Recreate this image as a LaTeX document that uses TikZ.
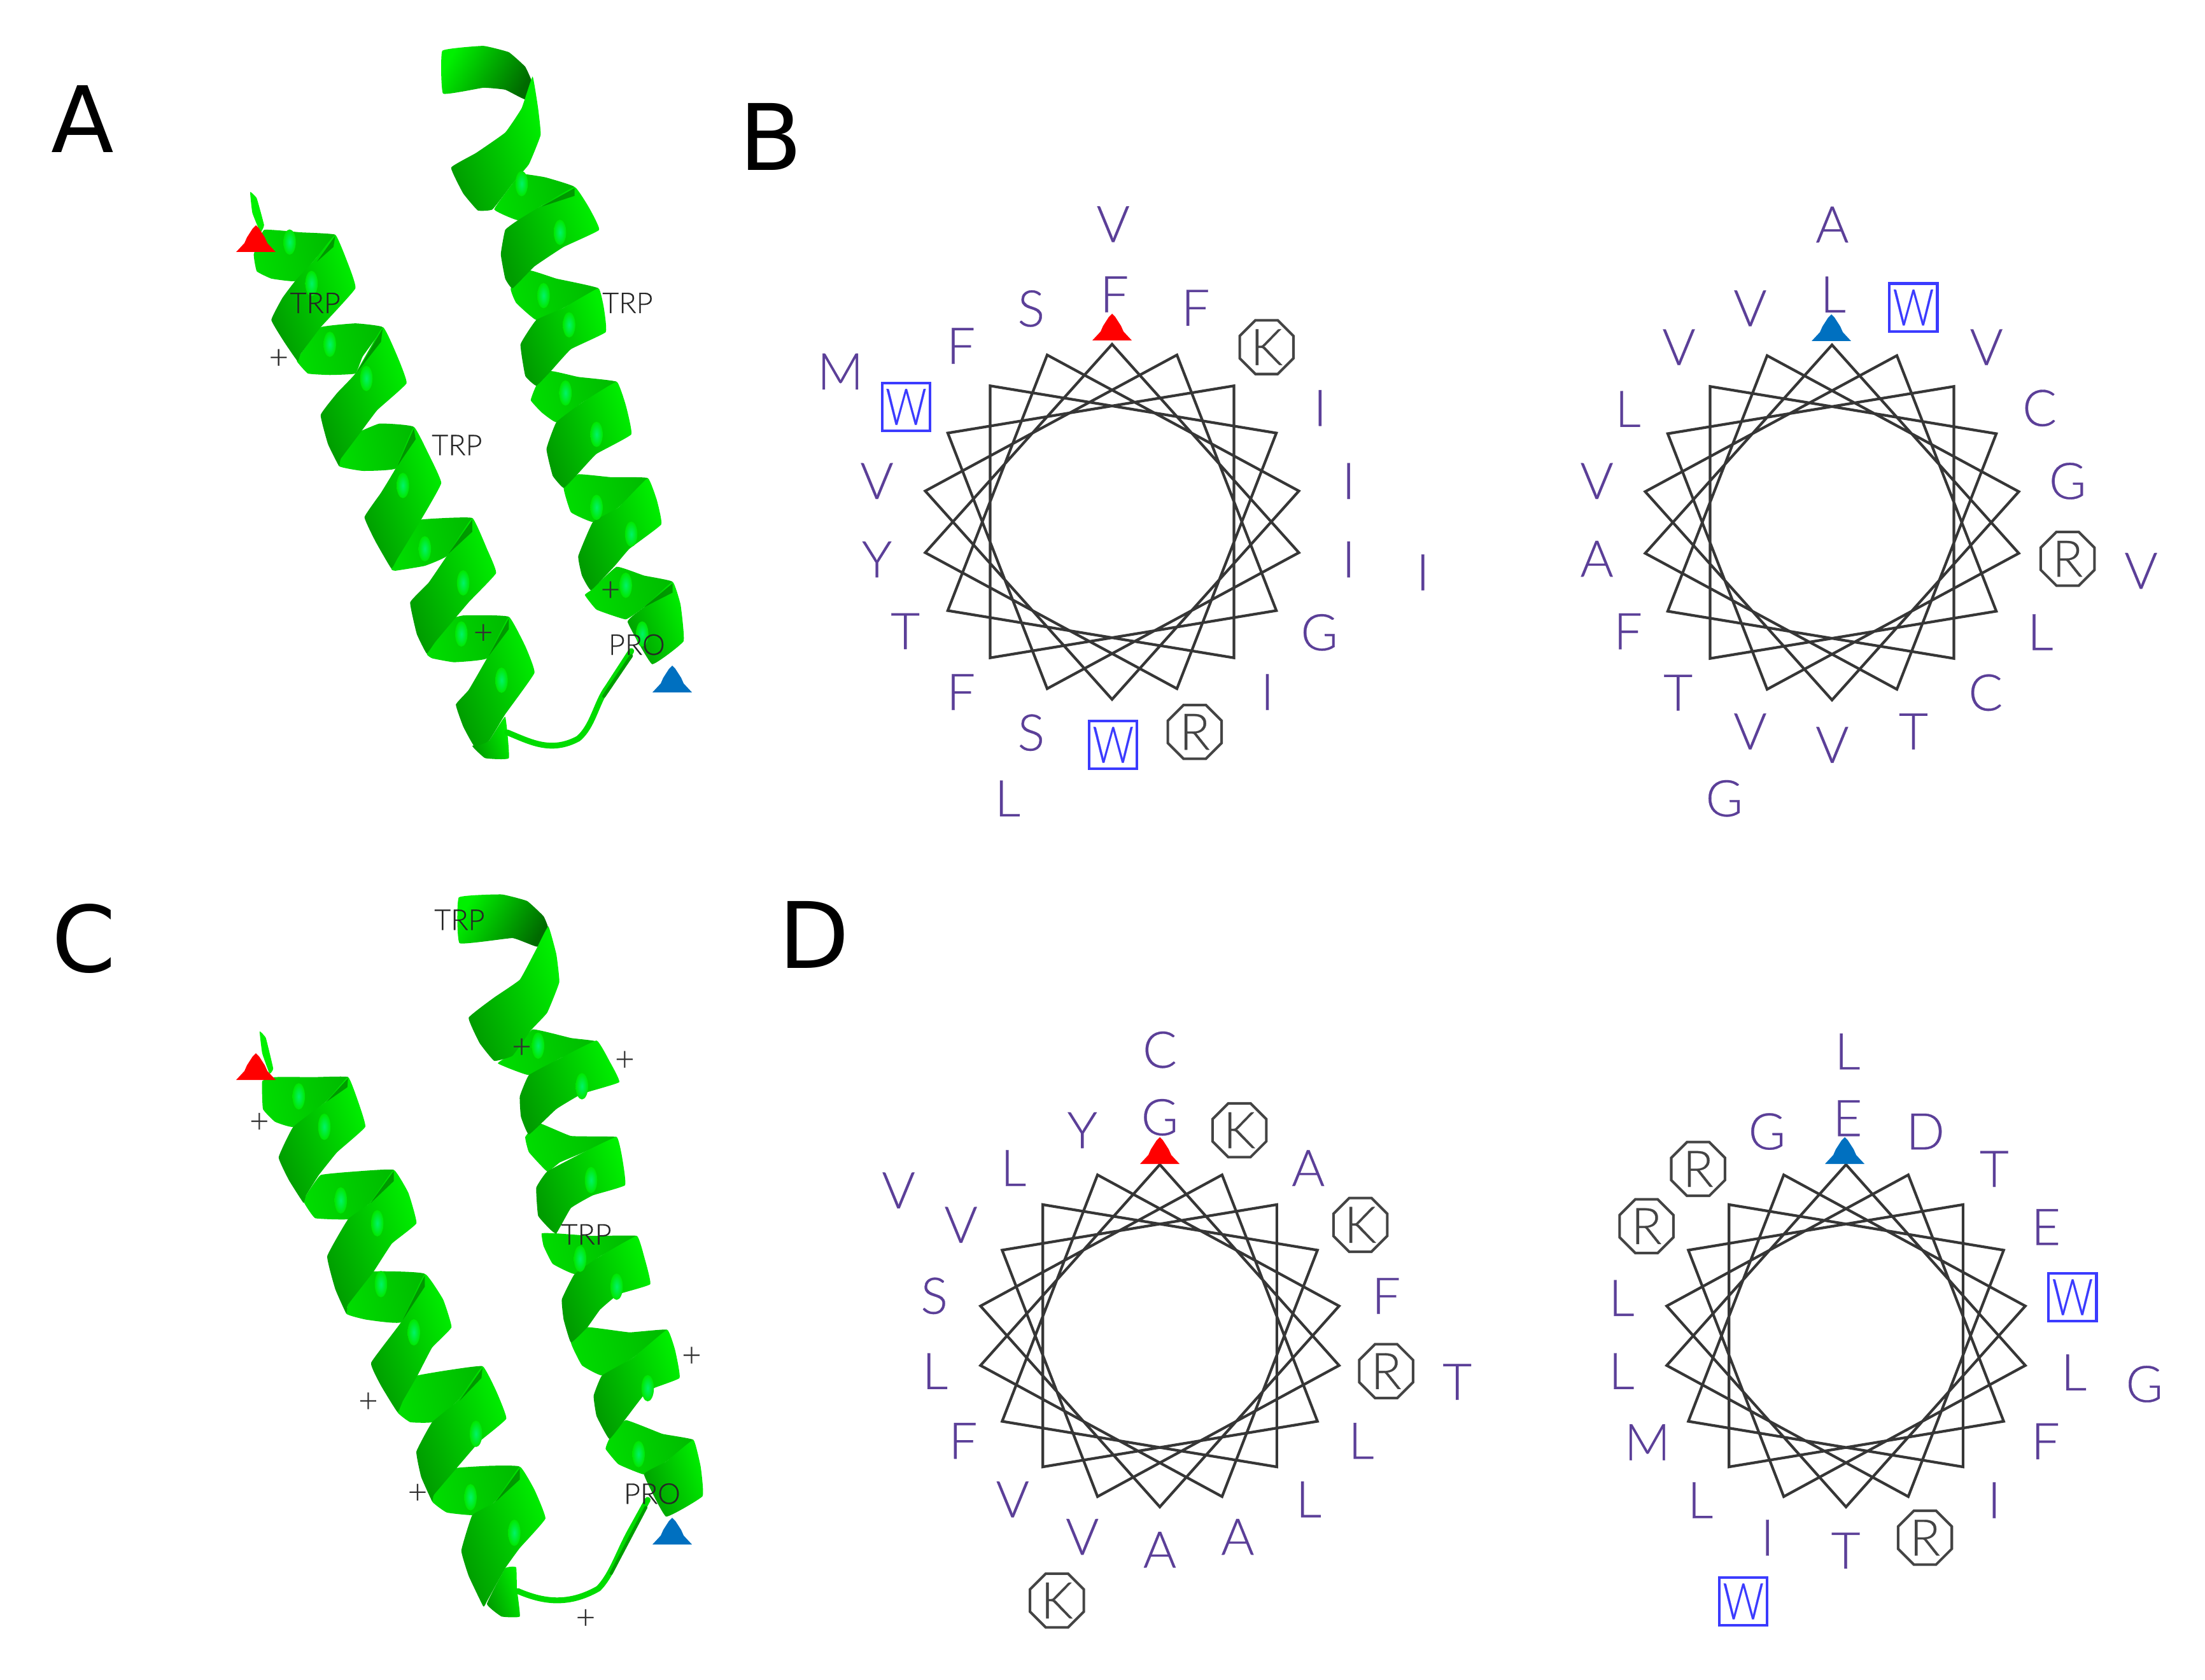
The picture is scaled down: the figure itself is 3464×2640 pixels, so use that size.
\documentclass[tikz,border=0pt]{standalone}
\usepackage{fontspec}
\usepackage{graphicx}
\usetikzlibrary{shapes.geometric}
\setmainfont{Liberation Sans}
\newfontfamily\lightfont[FakeBold=.35]{Lato Light}
\newfontfamily\panelfont{DejaVu Sans}
\definecolor{resid}{HTML}{5B3F98}
\definecolor{wblue}{HTML}{3B3BFF}
\definecolor{octc}{HTML}{444444}
\definecolor{wheelc}{HTML}{363636}
\definecolor{gbright}{HTML}{00F000}
\definecolor{gmid}{HTML}{00DC00}
\definecolor{gdark}{HTML}{009C00}
\definecolor{gedge}{HTML}{00BC00}
\definecolor{gfold}{HTML}{006A00}
\definecolor{ghl}{HTML}{00F26A}
\definecolor{redtri}{HTML}{FF0000}
\definecolor{bluetri}{HTML}{0070C0}
\tikzset{
  resid/.style={inner sep=0pt,text=resid,font=\lightfont\fontsize{22.6}{24}\selectfont},
  octag/.style={regular polygon,regular polygon sides=8,draw=octc,line width=1.15pt,inner sep=0pt,minimum size=26pt,text=octc,font=\lightfont\fontsize{22.6}{24}\selectfont},
  wbox/.style={rectangle,draw=wblue,line width=1.2pt,inner sep=0pt,minimum size=21.4pt,text=wblue,font=\lightfont\fontsize{22.6}{24}\selectfont},
  wheelline/.style={draw=wheelc,line width=1.2pt,line join=miter},
  plabel/.style={inner sep=0pt,text=black!85,font=\lightfont\fontsize{12.8}{13}\selectfont},
  plusm/.style={inner sep=0pt,text=black!80,font=\lightfont\fontsize{15}{16}\selectfont},
  panel/.style={inner sep=0pt,text=black,font=\panelfont\fontsize{41}{44}\selectfont},
  bb/.style={left color=gmid,middle color=gbright,right color=gedge,shading angle=100},
  ff/.style={left color=gdark,middle color=gmid,right color=gbright,shading angle=110},
  ss/.style={left color=gbright,middle color=gmid,right color=gfold,shading angle=60},
  foldw/.style={fill=gfold,opacity=.6},
  loopr/.style={draw=gmid,line cap=round,line join=round},
}
\newcounter{nn}
\newcommand\rl[3]{\stepcounter{nn}\node[resid] (r\arabic{nn}) at (#1,#2) {#3};}
\newcommand\ro[3]{\stepcounter{nn}\node[octag] (r\arabic{nn}) at (#1,#2) {#3};}
\newcommand\rw[2]{\stepcounter{nn}\node[wbox] (r\arabic{nn}) at (#1,#2) {\scalebox{.8}[1]{W}};}
\newcommand\lab[3]{\stepcounter{nn}\node[plabel] (r\arabic{nn}) at (#1,#2) {#3};}
\newcommand\pl[2]{\stepcounter{nn}\node[plusm] (r\arabic{nn}) at (#1,#2) {+};}
\newcommand\band[2]{\path[#1] plot[smooth cycle,tension=.18] coordinates {#2};}
\newcommand\hl[2]{\shade[inner color=ghl,outer color=gmid!40!gbright] (#1,#2) ellipse (17 and 26);}
\newcommand\fold[3]{\fill[foldw] #1 -- #2 -- #3 -- cycle;}
\newcommand\tri[3]{\fill[#3] (#1-31,#2) -- (#1-18,#2-14) -- (#1-14,#2-23) -- (#1-5,#2-37) -- (#1,#2-42) -- (#1+5,#2-37) -- (#1+14,#2-23) -- (#1+18,#2-14) -- (#1+31,#2) -- cycle;}
\newcommand\wheelstar[4]{\path[wheelline] plot[samples at={0,1,...,17},variable=\k] ({#1+#3*sin(100*\k)},{#2-#4*cos(100*\k)}) -- cycle;}
\begin{document}
\begin{tikzpicture}[x=.01cm,y=-.01cm]
\useasboundingbox[fill=white] (0,0) rectangle (3464,2640);
% panel letters
\node[panel] (pa) at (130,187) {A};
\node[panel] (pb) at (1211,215) {B};
\node[panel] (pc) at (132,1475) {C};
\node[panel] (pd) at (1279,1469) {D};
% ----- A helices
\begin{scope}[shift={(300,40)},xscale=1/1.742,yscale=1/1.307]
% left
\band{bb}{(200,420) (300,425) (395,430) (340,480) (285,525) (220,520) (180,505) (172,470)}
\band{bb}{(355,620) (450,612) (525,620) (470,680) (450,715) (380,718) (320,715) (290,690) (300,675)}
\band{bb}{(515,818) (610,825) (560,910) (470,915) (405,905) (420,850)}
\band{bb}{(630,1015) (770,1012) (700,1090) (640,1110) (560,1120) (548,1115) (580,1040)}
\band{bb}{(745,1212) (870,1215) (810,1300) (720,1308) (660,1300) (645,1290) (665,1230)}
\band{ff}{(860,1420) (870,1505) (805,1505) (770,1480) (815,1470)}
\path[loopr,line width=2.6pt] (865,1452) .. controls (930,1472) and (985,1495) .. (1060,1465) .. controls (1100,1440) and (1110,1390) .. (1140,1360) -- (1205,1285);
\path[draw=gdark,line width=1.5pt,line cap=round] (1130,1378) -- (1205,1295);
\band{ff}{(395,430) (425,480) (450,540) (355,620) (300,675) (292,690) (255,650) (220,605) (250,560) (285,525) (340,480)}
\band{ff}{(525,620) (565,680) (590,735) (510,790) (460,840) (410,890) (405,905) (375,860) (355,800) (400,755) (450,715)}
\band{ff}{(610,825) (650,880) (685,940) (630,1015) (565,1095) (548,1115) (505,1060) (475,1010) (520,960) (560,910)}
\band{ff}{(770,1012) (810,1075) (835,1125) (760,1185) (670,1265) (645,1290) (618,1250) (600,1185) (650,1145) (700,1090)}
\band{ff}{(870,1215) (915,1275) (940,1330) (860,1415) (815,1470) (775,1480) (745,1440) (725,1395) (760,1365) (810,1300)}
\fold{(395,432)}{(345,485)}{(390,455)}
\fold{(525,622)}{(455,712)}{(520,650)}
\fold{(610,828)}{(565,905)}{(615,850)}
\fold{(770,1015)}{(705,1085)}{(770,1040)}
\fold{(870,1218)}{(815,1295)}{(870,1240)}
\foreach \a/\b in {270/445,330/530,380/655,480/725,580/945,640/1075,745/1145,740/1250,850/1345}{\hl{\a}{\b}}
% right
\band{ss}{(688,52) (800,42) (870,55) (915,85) (935,120) (915,152) (860,132) (800,128) (690,140)}
\band{bb}{(905,305) (970,312) (1050,332) (960,370) (895,400) (830,378) (880,325)}
\band{bb}{(925,503) (1000,520) (1115,540) (1020,580) (945,605) (890,570) (875,540)}
\band{bb}{(985,710) (1060,722) (1165,732) (1070,775) (1000,815) (960,795) (930,770) (945,740)}
\band{bb}{(1060,922) (1150,928) (1250,930) (1170,990) (1100,1020) (1040,1000) (1020,950)}
\band{bb}{(1165,1112) (1240,1130) (1318,1143) (1240,1195) (1190,1220) (1110,1200) (1078,1170) (1095,1160)}
\band{ff}{(935,105) (950,170) (957,225) (925,285) (880,325) (825,378) (785,380) (745,345) (712,292) (780,262) (860,220) (905,170)}
\band{ff}{(1050,332) (1090,375) (1117,420) (1020,455) (940,495) (880,540) (860,520) (848,470) (860,420) (895,400) (960,370)}
\band{ff}{(1115,540) (1130,580) (1135,630) (1040,665) (985,710) (945,740) (915,720) (902,655) (945,605) (1020,580)}
\band{ff}{(1165,732) (1190,780) (1205,840) (1110,880) (1060,920) (1020,950) (990,925) (973,870) (1000,815) (1070,775)}
\band{ff}{(1250,930) (1275,975) (1287,1025) (1200,1075) (1160,1110) (1095,1160) (1070,1130) (1060,1090) (1100,1020) (1170,990)}
\band{ff}{(1318,1143) (1340,1190) (1348,1265) (1262,1312) (1195,1225) (1240,1195)}
\fold{(1050,334)}{(960,372)}{(1050,350)}
\fold{(1318,1146)}{(1240,1195)}{(1318,1165)}
\foreach \a/\b in {905/325,1010/425,965/555,1035/615,1025/755,1110/840,1110/990,1205/1045,1190/1150,1235/1250}{\hl{\a}{\b}}
\lab{340}{570}{TRP}\lab{1195}{570}{TRP}\lab{728}{862}{TRP}\lab{1220}{1272}{PRO}
\pl{240}{685}\pl{1148}{1162}\pl{800}{1250}
\end{scope}
% ----- C helices
\begin{scope}[shift={(300,1380)},xscale=1/1.742,yscale=1/1.254]
% left
\band{bb}{(230,392) (340,392) (430,392) (370,440) (280,490) (230,480) (197,455) (195,400)}
\band{bb}{(355,585) (450,578) (555,575) (490,640) (430,672) (340,670) (310,640) (315,625)}
\band{bb}{(500,775) (640,780) (575,875) (480,870) (425,858) (445,800)}
\band{bb}{(620,980) (700,970) (798,962) (730,1030) (660,1072) (600,1072) (565,1052) (575,1000)}
\band{bb}{(730,1162) (820,1158) (900,1160) (830,1230) (770,1255) (700,1250) (660,1228) (680,1180)}
\band{ff}{(860,1360) (890,1358) (892,1400) (900,1455) (850,1455) (810,1430)}
\path[loopr,line width=2.6pt] (895,1405) .. controls (960,1425) and (1030,1435) .. (1115,1400) .. controls (1150,1375) and (1170,1330) .. (1200,1290) -- (1250,1225);
\path[draw=gdark,line width=1.4pt,line cap=round] (1150,1370) -- (1245,1240);
\band{ff}{(430,392) (455,435) (477,490) (400,540) (350,585) (315,625) (308,640) (268,595) (240,550) (280,490) (370,440)}
\band{ff}{(555,575) (595,620) (617,680) (550,720) (500,775) (430,840) (425,858) (395,810) (373,745) (430,672) (490,640)}
\band{ff}{(640,780) (690,830) (713,885) (660,925) (620,980) (580,1030) (565,1052) (520,1000) (493,955) (575,875)}
\band{ff}{(798,962) (835,1010) (863,1065) (790,1110) (730,1160) (665,1215) (660,1228) (630,1180) (617,1130) (660,1072) (730,1030)}
\band{ff}{(900,1160) (940,1205) (970,1262) (900,1320) (860,1360) (810,1425) (800,1435) (760,1375) (740,1325) (770,1255) (830,1230)}
\fold{(430,394)}{(372,440)}{(428,412)}
\fold{(555,577)}{(492,640)}{(555,597)}
\fold{(640,783)}{(580,870)}{(640,805)}
\fold{(798,965)}{(735,1030)}{(795,985)}
\fold{(900,1163)}{(835,1228)}{(900,1185)}
\foreach \a/\b in {295/430,365/490,410/635,510/680,520/800,610/895,780/1095,765/1220,885/1290}{\hl{\a}{\b}}
% right
\band{ss}{(733,38) (850,32) (920,45) (965,75) (978,100) (948,135) (880,118) (735,128)}
\band{bb}{(935,298) (1040,315) (1110,322) (1010,355) (925,388) (840,365) (880,345)}
\band{bb}{(950,482) (1040,508) (1165,510) (1075,540) (1010,560) (975,578) (925,540) (915,510)}
\band{bb}{(1000,700) (1100,705) (1220,705) (1120,745) (1050,780) (990,760) (965,725) (960,700)}
\band{bb}{(1085,885) (1200,895) (1303,890) (1210,945) (1125,980) (1070,960) (1040,915)}
\band{bb}{(1190,1068) (1290,1095) (1375,1107) (1300,1150) (1240,1175) (1170,1155) (1135,1125) (1145,1105)}
\band{ff}{(978,95) (1000,150) (1008,205) (975,265) (930,300) (880,350) (830,360) (790,325) (760,275) (830,235) (900,200) (945,140)}
\band{ff}{(1110,320) (1145,360) (1172,402) (1070,425) (1000,455) (925,505) (903,470) (900,430) (925,388) (1010,355)}
\band{ff}{(1165,510) (1180,550) (1188,605) (1100,625) (1040,650) (1000,700) (980,690) (950,665) (945,610) (975,578) (1075,540)}
\band{ff}{(1220,705) (1240,745) (1257,800) (1170,820) (1120,850) (1085,885) (1040,915) (1020,870) (1015,830) (1050,780) (1120,745)}
\band{ff}{(1303,890) (1325,930) (1337,985) (1250,1010) (1190,1065) (1145,1105) (1110,1060) (1102,1020) (1125,980) (1210,945)}
\band{ff}{(1375,1107) (1395,1160) (1400,1218) (1300,1258) (1240,1175) (1300,1150)}
\foreach \a/\b in {950/330,1070/410,1095/595,1065/750,1165/805,1250/1005,1225/1135}{\hl{\a}{\b}}
\lab{735}{82}{TRP}\lab{1082}{702}{TRP}\lab{1262}{1213}{PRO}
\pl{187}{482}\pl{905}{335}\pl{1187}{360}\pl{1370}{943}\pl{485}{1033}\pl{620}{1213}\pl{1080}{1460}
\end{scope}
% leaf tips
\begin{scope}[shift={(300,40)},xscale=1/1.742,yscale=1/1.307]
\band{fill=gbright}{(162,342) (180,355) (200,410) (190,425) (168,385)}
\end{scope}
\begin{scope}[shift={(300,1380)},xscale=1/1.742,yscale=1/1.254]
\band{fill=gbright}{(188,302) (205,315) (225,375) (215,385) (195,345)}
\end{scope}
\tri{402}{396}{redtri}
\tri{1056}{1088}{bluetri}
\tri{402}{1697}{redtri}
\tri{1056}{2427}{bluetri}
% wheels
\wheelstar{1747}{820}{298}{279}
\wheelstar{2878}{821}{298}{279}
\wheelstar{1822}{2099}{286}{269}
\wheelstar{2900}{2099}{286}{269}
\tri{1747}{535}{redtri}
\tri{2877}{536}{bluetri}
\tri{1822}{1829}{redtri}
\tri{2898}{1829}{bluetri}
\begin{scope}[shift={(1250,300)},scale=1/1.568]
\rl{782}{82}{V}\rl{785}{255}{F}\rl{580}{290}{S}\rl{985}{288}{F}\rl{110}{445}{M}\rl{407}{382}{F}\rw{272}{532}\ro{1160}{385}{K}
\rl{1292}{535}{I}\rl{1362}{715}{I}\rl{1362}{908}{I}\rl{1545}{940}{I}\rl{200}{715}{V}\rl{200}{908}{Y}\rl{1290}{1088}{G}\rl{270}{1085}{T}
\rl{407}{1235}{F}\rl{1162}{1235}{I}\rl{580}{1335}{S}\ro{983}{1333}{R}\rw{782}{1365}\rl{522}{1497}{L}
\end{scope}
\begin{scope}[shift={(2400,300)},scale=1/1.4737]
\rl{705}{78}{A}\rl{707}{240}{L}\rl{515}{272}{V}\rw{893}{270}\rl{350}{362}{V}\rl{1062}{362}{V}\rl{232}{505}{L}\rl{1185}{503}{C}
\rl{160}{672}{V}\rl{1250}{672}{G}\ro{1250}{852}{R}\rl{160}{852}{A}\rl{1420}{880}{V}\rl{232}{1020}{F}\rl{1187}{1022}{L}\rl{348}{1162}{T}
\rl{1060}{1162}{C}\rl{515}{1252}{V}\rl{893}{1252}{T}\rl{705}{1283}{V}\rl{455}{1407}{G}
\end{scope}
\begin{scope}[shift={(1300,1580)},scale=1/1.479]
\rl{772}{103}{C}\rl{772}{260}{G}\rl{592}{290}{Y}\ro{957}{290}{K}\rl{432}{378}{L}\rl{1117}{378}{A}\rl{165}{430}{V}\rl{310}{510}{V}
\ro{1238}{510}{K}\rl{248}{675}{S}\rl{1298}{675}{F}\rl{250}{850}{L}\ro{1298}{850}{R}\rl{1463}{875}{T}\rl{315}{1012}{F}\rl{1240}{1012}{L}
\rl{430}{1148}{V}\rl{1118}{1148}{L}\rl{592}{1235}{V}\rl{953}{1235}{A}\rl{772}{1265}{A}\ro{533}{1383}{K}
\end{scope}
\begin{scope}[shift={(2404,1580)},scale=1/1.479]
\rl{737}{107}{L}\rl{737}{262}{E}\rl{550}{293}{G}\rl{918}{293}{D}\rl{1078}{380}{T}\ro{390}{380}{R}\ro{270}{513}{R}\rl{1198}{515}{E}
\rl{212}{680}{L}\rw{1260}{678}\rl{212}{850}{L}\rl{1263}{853}{L}\rl{1427}{880}{G}\rl{272}{1015}{M}\rl{1197}{1013}{F}\rl{395}{1150}{L}
\rl{1078}{1150}{I}\rl{551}{1237}{I}\rl{733}{1267}{T}\ro{917}{1237}{R}\rw{495}{1385}
\end{scope}
\end{tikzpicture}
\end{document}
